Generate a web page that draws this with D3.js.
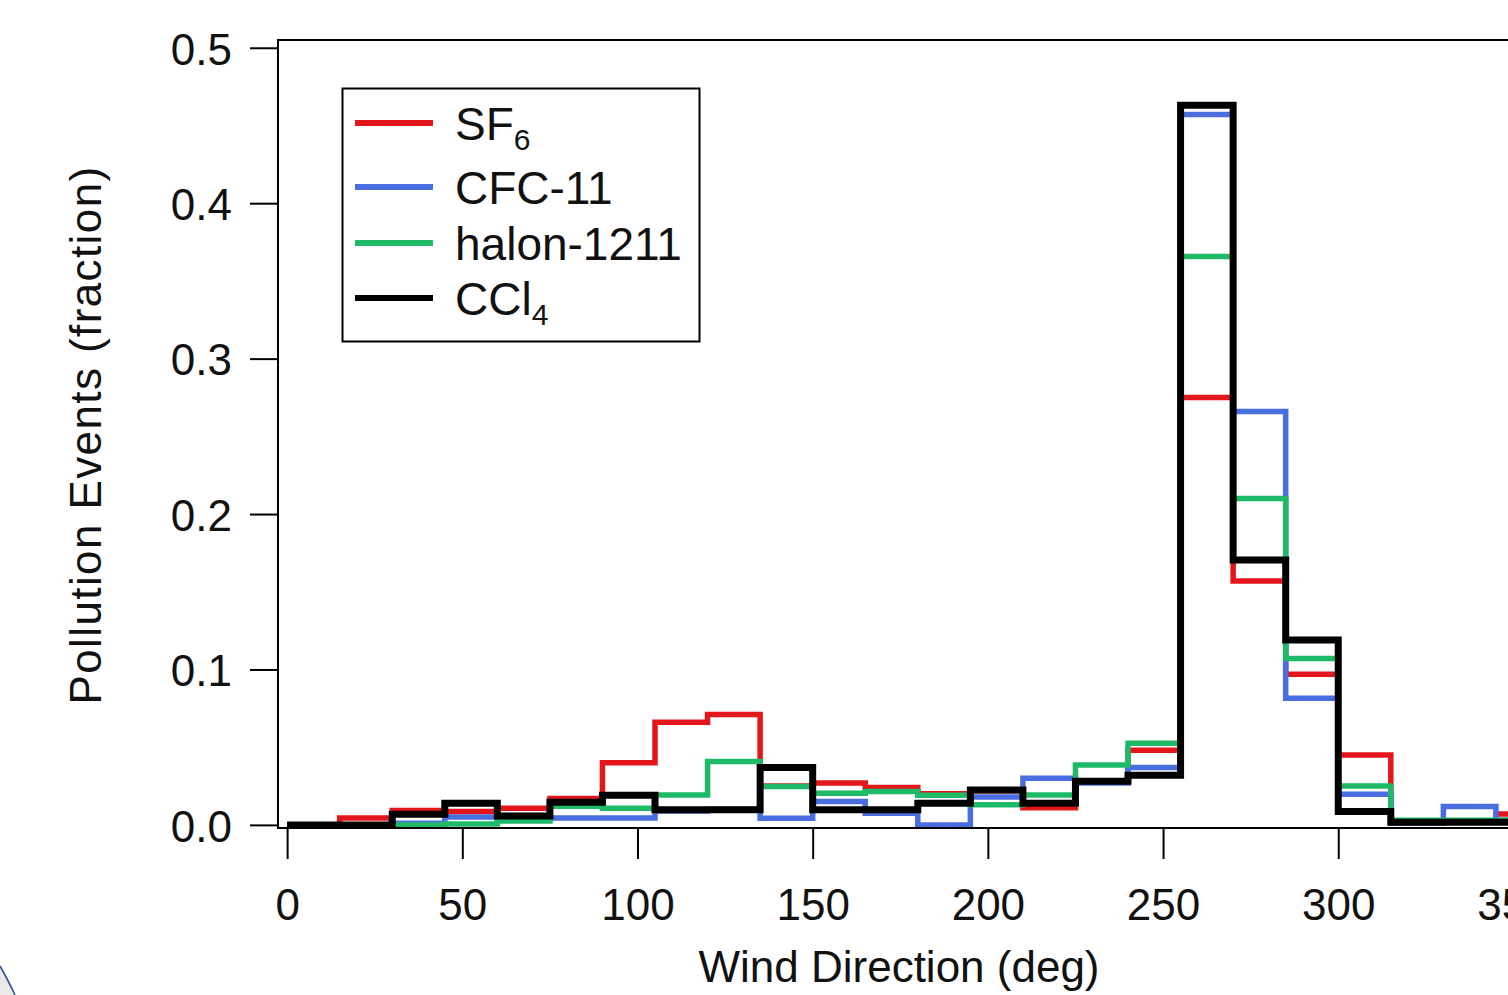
<!DOCTYPE html>
<html>
<head>
<meta charset="utf-8">
<script src="https://cdn.jsdelivr.net/npm/d3@7"></script>
<style>
    body { margin: 0; background: #fff; overflow: hidden; }
    svg { display: block; font-family: "Liberation Sans", Arial, sans-serif; }
</style>
</head>
<body>
<div id="chart"></div>
<script>
// bin edges of the wind direction histogram (deg)
var binEdges = [0, 15, 30, 45, 60, 75, 90, 105, 120, 135, 150, 165, 180,
    195, 210, 225, 240, 255, 270, 285, 300, 315, 330, 345, 360];

// fraction of pollution events per bin
var sf6 = [0.000, 0.0045, 0.0092, 0.0086, 0.0107, 0.017, 0.040, 0.066, 0.071, 0.025, 0.027, 0.024,
    0.020, 0.022, 0.011, 0.028, 0.048, 0.275, 0.157, 0.097, 0.045, 0.002, 0.002, 0.007];
var cfc11 = [0.000, 0.000, 0.001, 0.005, 0.003, 0.0045, 0.0045, 0.009, 0.010, 0.0043, 0.015, 0.0075,
    0.000, 0.018, 0.030, 0.027, 0.037, 0.457, 0.266, 0.0815, 0.0197, 0.001, 0.0118, 0.003];
var halon1211 = [0.000, 0.000, 0.000, 0.0005, 0.0025, 0.012, 0.0107, 0.0193, 0.0408, 0.0247, 0.0204, 0.0215,
    0.019, 0.0129, 0.0193, 0.0386, 0.0526, 0.3657, 0.210, 0.107, 0.025, 0.003, 0.003, 0.003];
var ccl4 = [0.000, 0.000, 0.0069, 0.014, 0.0058, 0.0145, 0.019, 0.0097, 0.0097, 0.037, 0.0097, 0.0097,
    0.014, 0.0225, 0.014, 0.028, 0.032, 0.463, 0.1705, 0.119, 0.0086, 0.0017, 0.0017, 0.0017];

var seriesNames = ["SF", "CFC-11", "halon-1211", "CCl"];
var seriesSubs = ["6", "", "", "4"];
var seriesColors = ["#e3161b", "#4a6de0", "#1fba68", "#000000"];

var xTicks = [0, 50, 100, 150, 200, 250, 300, 350];
var yTicks = [0.0, 0.1, 0.2, 0.3, 0.4, 0.5];

let width = 1508, height = 995;
let svg = d3.select('#chart').append('svg')
    .attr('width', width)
    .attr('height', height);

// scales (frame left edge sits a little before 0 deg, bottom a little below 0)
let x = d3.scaleLinear().domain([-2.6, 365]).range([278, 1566]);
let y = d3.scaleLinear().domain([-0.002, 0.505]).range([828, 40]);

// decoration in the lower left corner of the slide
svg.append('path')
    .attr('d', 'M0,966 Q9,982 15,995 L0,995 Z')
    .attr('fill', '#ebe8e8');
svg.append('path')
    .attr('d', 'M0,966 Q9,982 15,995')
    .attr('fill', 'none')
    .attr('stroke', '#2b5797')
    .attr('stroke-width', 1.6);

// series lines as step histograms
let allSeries = [sf6, cfc11, halon1211, ccl4];
let line = d3.line()
    .x(d => x(d[0]))
    .y(d => y(d[1]))
    .curve(d3.curveStepAfter);

allSeries.forEach((vals, i) => {
    let pts = vals.map((v, j) => [binEdges[j], v]);
    pts.push([binEdges[binEdges.length - 1], vals[vals.length - 1]]);
    svg.append('path')
        .datum(pts)
        .attr('d', line)
        .attr('fill', 'none')
        .attr('stroke', seriesColors[i])
        .attr('stroke-width', i === 3 ? 7 : 5.5)
        .attr('stroke-linejoin', 'miter');
});

// frame
let x0 = x.range()[0], x1 = x.range()[1];
let y0 = y.range()[0], y1 = y.range()[1];
svg.append('path')
    .attr('d', `M${x1},${y0} H${x0} V${y1} H${x1}`)
    .attr('fill', 'none')
    .attr('stroke', '#000')
    .attr('stroke-width', 2);

// x axis
let xAxis = svg.append('g')
    .attr('transform', `translate(0,${y0})`)
    .call(d3.axisBottom(x).tickValues(xTicks).tickSize(31).tickFormat(d3.format('d')));
xAxis.select('.domain').remove();
xAxis.selectAll('line').attr('stroke-width', 2);
xAxis.selectAll('text')
    .attr('y', 92)
    .attr('dy', null)
    .style('font-size', '44px')
    .attr('fill', '#111');

// y axis
let yAxis = svg.append('g')
    .attr('transform', `translate(${x0},0)`)
    .call(d3.axisLeft(y).tickValues(yTicks).tickSize(28).tickFormat(d3.format('.1f')));
yAxis.select('.domain').remove();
yAxis.selectAll('line').attr('stroke-width', 2);
yAxis.selectAll('text')
    .attr('x', -46)
    .attr('dy', '0.37em')
    .style('font-size', '44px')
    .attr('fill', '#111');
d3.selectAll('.tick').attr('font-family', null);

// axis titles
svg.append('text')
    .attr('x', 899)
    .attr('y', 982)
    .attr('text-anchor', 'middle')
    .style('font-size', '44px')
    .attr('fill', '#111')
    .text('Wind Direction (deg)');

svg.append('text')
    .attr('transform', 'translate(101,435) rotate(-90)')
    .attr('text-anchor', 'middle')
    .style('font-size', '44px')
    .style('letter-spacing', '1.4px')
    .attr('fill', '#111')
    .text('Pollution Events (fraction)');

// legend
let legend = svg.append('g');
legend.append('rect')
    .attr('x', 342.5)
    .attr('y', 88.5)
    .attr('width', 357)
    .attr('height', 253)
    .attr('fill', '#fff')
    .attr('stroke', '#000')
    .attr('stroke-width', 2);

// first row sits a bit higher than the even spacing of the rest
let rowOffsets = [0, 64, 120, 175];
seriesNames.forEach((name, i) => {
    let ry = 123 + rowOffsets[i];
    legend.append('line')
        .attr('x1', 355).attr('x2', 433)
        .attr('y1', ry).attr('y2', ry)
        .attr('stroke', seriesColors[i])
        .attr('stroke-width', 6);
    let t = legend.append('text')
        .attr('x', 455)
        .attr('y', ry + 17)
        .style('font-size', '46px')
        .attr('fill', '#111')
        .text(name);
    if (seriesSubs[i]) {
        t.append('tspan')
            .attr('dy', 10)
            .style('font-size', '30px')
            .text(seriesSubs[i]);
    }
});
</script>
</body>
</html>
